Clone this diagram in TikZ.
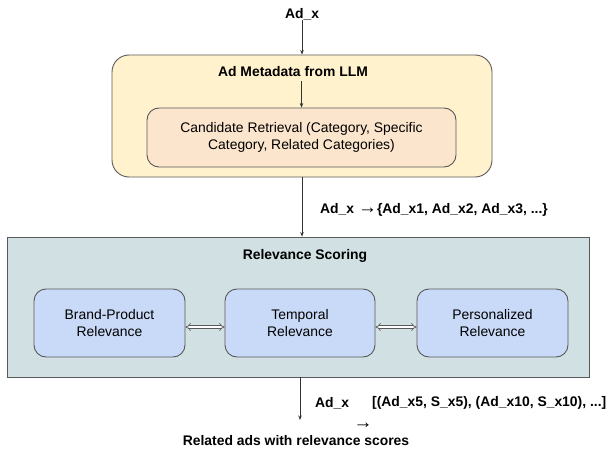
\documentclass[tikz,border=0pt]{standalone}
\usepackage{fontspec}
\setmainfont{Liberation Sans}
\usetikzlibrary{arrows.meta}

\definecolor{metafill}{HTML}{FFF2CC}
\definecolor{retrfill}{HTML}{FCE5CD}
\definecolor{scorefill}{HTML}{D0E0E3}
\definecolor{relfill}{HTML}{C9DAF8}
\definecolor{edge}{HTML}{595959}

\newcommand{\maparrow}{{\fontsize{19}{17}\selectfont\mdseries →}}

\tikzset{
  every node/.style={font=\fontsize{13.9}{17}\selectfont, inner sep=0pt},
  title/.style={font=\fontsize{13.9}{17}\selectfont\bfseries},
  panel/.style={draw=edge, line width=0.9pt},
  relbox/.style={panel, fill=relfill, rounded corners=12pt,
    minimum height=68pt, align=center},
  flow/.style={draw=black!80, line width=0.7pt,
    -{Stealth[length=4.5pt,width=3.5pt]}},
  dblarrow/.style={draw=edge, double=white, double distance=2.2pt,
    line width=0.6pt, {Implies[length=3pt]}-{Implies[length=3pt]}},
}

\begin{document}
\begin{tikzpicture}[x=1pt, y=-1pt]
  \useasboundingbox (0,0) rectangle (611,452);

  % input ad
  \node[title] (adin) at (302,14) {Ad\_x};

  % metadata stage
  \node[panel, fill=metafill, rounded corners=17pt,
        minimum width=380pt, minimum height=122pt] (meta) at (302,116) {};
  \node[title] (metatitle) at (293,72) {Ad Metadata from LLM};
  \node[panel, fill=retrfill, rounded corners=12pt, align=center,
        minimum width=309pt, minimum height=59pt] (retr) at (301.5,137.5)
        {Candidate Retrieval (Category, Specific\\Category, Related Categories)};

  \draw[flow] (adin.south) -- (adin.south |- meta.north);
  \draw[flow] (retr.north |- metatitle.south) ++(0,4) -- (retr.north);

  % scoring stage
  \node[panel, fill=scorefill, minimum width=582pt,
        minimum height=140pt] (score) at (298,307) {};
  \node[title] (scoretitle) at (305,256) {Relevance Scoring};

  \node[relbox, minimum width=151pt] (brand) at (109.5,323)
        {Brand-Product\\Relevance};
  \node[relbox, minimum width=150pt] (temporal) at (300,323)
        {Temporal\\Relevance};
  \node[relbox, minimum width=151pt] (personal) at (492.5,323)
        {Personalized\\Relevance};

  \draw[dblarrow] ([yshift=-4pt]brand.east) -- ([yshift=-4pt]temporal.west);
  \draw[dblarrow] ([yshift=-4pt]temporal.east) -- ([yshift=-4pt]personal.west);

  \draw[flow] (meta.south) -- (meta.south |- score.north);
  \node[title, anchor=west] (candlabel) at (320,210)
        {Ad\_x \maparrow\{Ad\_x1, Ad\_x2, Ad\_x3, ...\}};

  % output
  \coordinate (out) at (300,420);
  \draw[flow] (score.south -| out) -- (out);
  \node[title, anchor=west] (outad) at (315,403) {Ad\_x};
  \node[title, anchor=west] (outlist) at (372,403)
        {[(Ad\_x5, S\_x5), (Ad\_x10, S\_x10), ...]};
  \node[title] (outarrow) at (363,426) {\maparrow};
  \node[title] (result) at (296,441) {Related ads with relevance scores};
\end{tikzpicture}
\end{document}
